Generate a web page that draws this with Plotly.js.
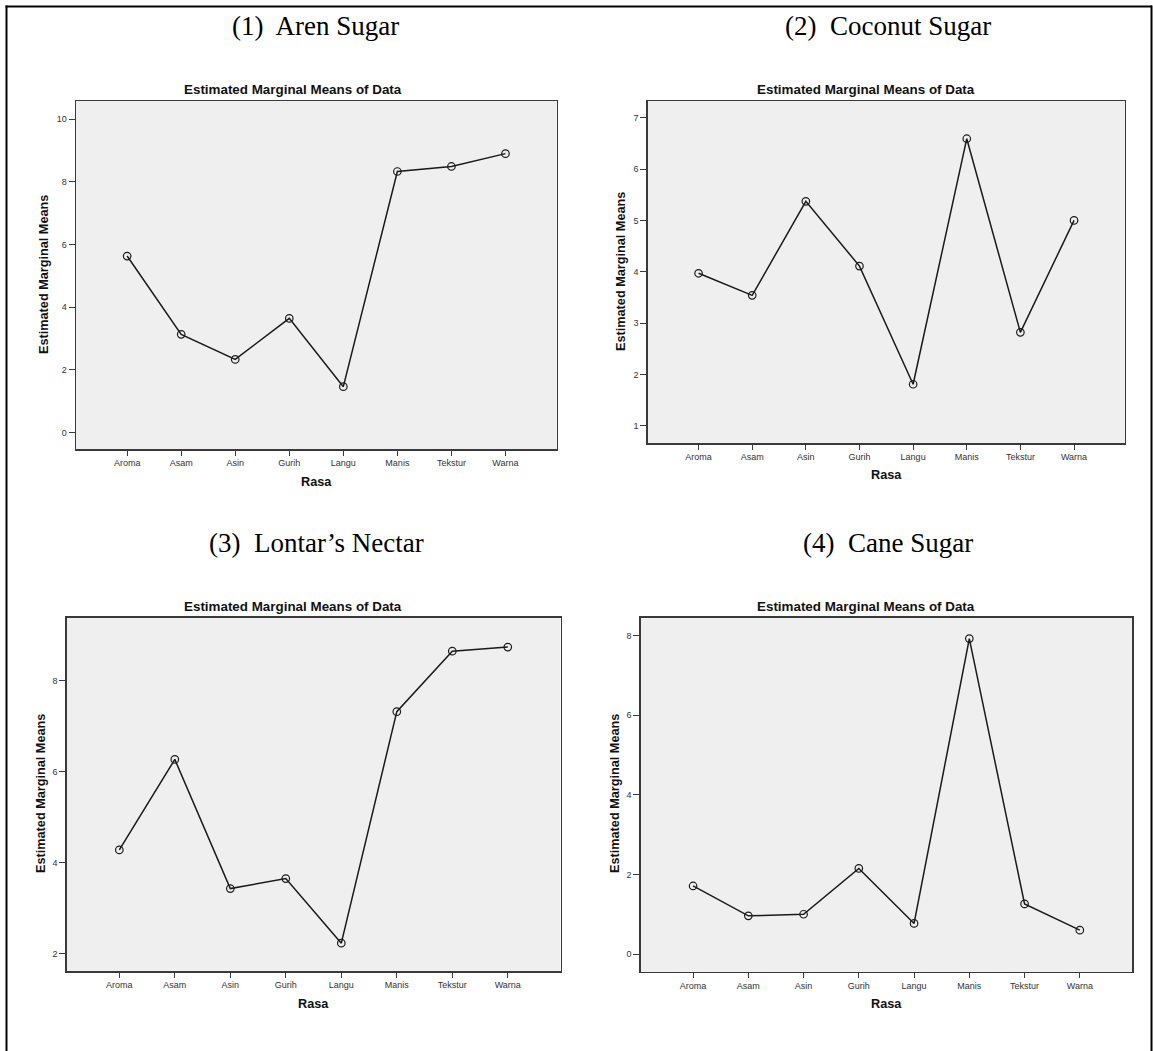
<!DOCTYPE html>
<html>
<head>
<meta charset="utf-8">
<script src="https://cdn.plot.ly/plotly-3.0.1.min.js"></script>
<style>html,body{margin:0;padding:0;background:#fff}#chart{width:1153px;height:1051px}</style>
</head>
<body>
<div id="chart"></div>
<script>
// ---- data ----
var rasa = ["Aroma", "Asam", "Asin", "Gurih", "Langu", "Manis", "Tekstur", "Warna"];
var panelTitles = ["(1)  Aren Sugar", "(2)  Coconut Sugar", "(3)  Lontar\u2019s Nectar", "(4)  Cane Sugar"];
var arenSugar    = [5.63, 3.13, 2.33, 3.64, 1.46, 8.33, 8.49, 8.90];
var coconutSugar = [3.97, 3.54, 5.37, 4.11, 1.81, 6.59, 2.82, 5.00];
var lontarNectar = [4.28, 6.27, 3.43, 3.65, 2.23, 7.32, 8.65, 8.74];
var caneSugar    = [1.71, 0.96, 1.00, 2.15, 0.77, 7.92, 1.26, 0.60];
var chartTitle = "Estimated Marginal Means of Data";
var yTitle = "Estimated Marginal Means";
var xTitle = "Rasa";

// ---- layout helpers (pixel positions) ----
var W = 1153, H = 1051;
function px(x){ return x / W; }
function py(y){ return 1 - y / H; }

var series = [arenSugar, coconutSugar, lontarNectar, caneSugar];
var boxes = [
  {l: 75.8, r: 556.8, t: 100.7, b: 449.3, yr: [-0.54, 10.59], dt: 2},
  {l: 647.6, r: 1125, t: 100.7, b: 443.3, yr: [0.66, 7.33], dt: 1},
  {l: 66.6, r: 560.5, t: 617.5, b: 971.4, yr: [1.61, 9.39], dt: 2},
  {l: 640.6, r: 1132.3, t: 617.5, b: 972, yr: [-0.45, 8.45], dt: 2}
];
var panelTitlePos = [[315, 26], [888, 26], [316, 543], [888, 543]];
var chartTitlePos = [[293, 90], [866, 90], [293, 606], [866, 606]];
var yTitlePos = [[44, 275], [621, 272], [41, 794], [615, 794]];
var xTitlePos = [[316, 482], [886, 475], [313, 1004], [886, 1004]];

var traces = [];
var layout = {
  width: W, height: H,
  margin: {l: 0, r: 0, t: 0, b: 0},
  paper_bgcolor: "#ffffff",
  plot_bgcolor: "#efefef",
  showlegend: false,
  annotations: [],
  shapes: [
    {type: "line", xref: "paper", yref: "paper", x0: px(5.5), x1: px(1152), y0: py(6.5), y1: py(6.5), line: {color: "#000", width: 2}},
    {type: "line", xref: "paper", yref: "paper", x0: px(6.5), x1: px(6.5), y0: py(5.5), y1: py(1051), line: {color: "#000", width: 2}},
    {type: "line", xref: "paper", yref: "paper", x0: px(1151.5), x1: px(1151.5), y0: py(5.5), y1: py(1051), line: {color: "#000", width: 2}}
  ]
};

for (var i = 0; i < 4; i++) {
  var n = i === 0 ? "" : String(i + 1);
  var b = boxes[i];
  traces.push({
    type: "scatter", mode: "lines+markers",
    x: rasa, y: series[i],
    xaxis: "x" + n, yaxis: "y" + n,
    line: {color: "#1a1a1a", width: 1.5},
    marker: {symbol: "circle-open", size: 7.5, color: "#1a1a1a", line: {width: 1.2, color: "#1a1a1a"}},
    hoverinfo: "skip"
  });
  layout["xaxis" + n] = {
    domain: [px(b.l), px(b.r)], anchor: "y" + n,
    type: "category", categoryorder: "array", categoryarray: rasa,
    range: [-0.95, 7.95],
    showgrid: false, zeroline: false,
    showline: true, mirror: true, linecolor: "#3a3a3a", linewidth: 1.2,
    ticks: "outside", ticklen: 5, tickcolor: "#3a3a3a",
    tickfont: {family: "Liberation Sans, Arial, sans-serif", size: 9, color: "#333"}
  };
  layout["yaxis" + n] = {
    domain: [py(b.b), py(b.t)], anchor: "x" + n,
    range: b.yr, dtick: b.dt, tick0: 0,
    showgrid: false, zeroline: false,
    showline: true, mirror: true, linecolor: "#3a3a3a", linewidth: 1.2,
    ticks: "outside", ticklen: 6, tickcolor: "#3a3a3a",
    tickfont: {family: "Liberation Sans, Arial, sans-serif", size: 9, color: "#333"}
  };
  layout.annotations.push({
    xref: "paper", yref: "paper", x: px(panelTitlePos[i][0]), y: py(panelTitlePos[i][1]),
    xanchor: "center", yanchor: "middle", showarrow: false, text: panelTitles[i],
    font: {family: "Liberation Serif, Times New Roman, serif", size: 27, color: "#000"}
  });
  layout.annotations.push({
    xref: "paper", yref: "paper", x: px(chartTitlePos[i][0]), y: py(chartTitlePos[i][1]),
    xanchor: "center", yanchor: "middle", showarrow: false, text: "<b>" + chartTitle + "</b>",
    font: {family: "Liberation Sans, Arial, sans-serif", size: 13.4, color: "#111"}
  });
  layout.annotations.push({
    xref: "paper", yref: "paper", x: px(yTitlePos[i][0]), y: py(yTitlePos[i][1]),
    xanchor: "center", yanchor: "middle", showarrow: false, textangle: -90, text: "<b>" + yTitle + "</b>",
    font: {family: "Liberation Sans, Arial, sans-serif", size: 12.7, color: "#111"}
  });
  layout.annotations.push({
    xref: "paper", yref: "paper", x: px(xTitlePos[i][0]), y: py(xTitlePos[i][1]),
    xanchor: "center", yanchor: "middle", showarrow: false, text: "<b>" + xTitle + "</b>",
    font: {family: "Liberation Sans, Arial, sans-serif", size: 12.7, color: "#111"}
  });
}

Plotly.newPlot("chart", traces, layout, {displayModeBar: false, staticPlot: true});
</script>
</body>
</html>
